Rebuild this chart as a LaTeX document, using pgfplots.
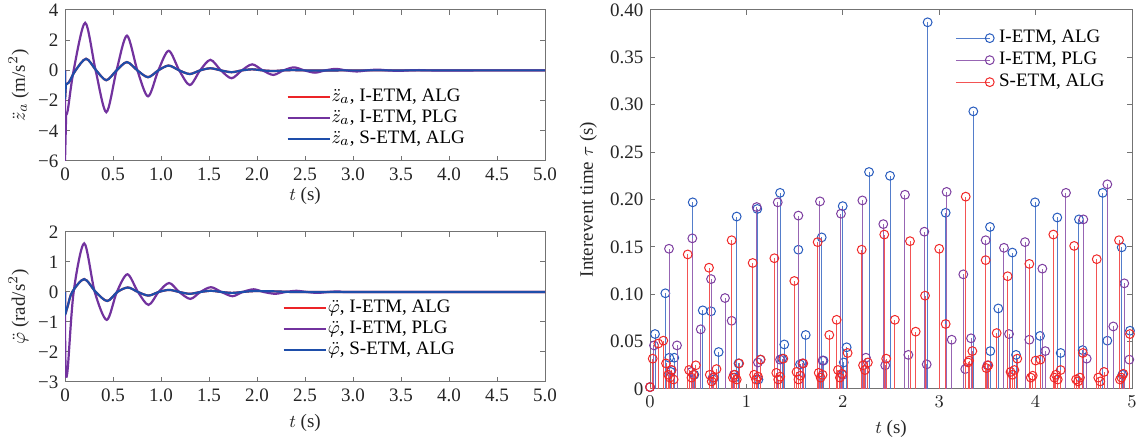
\documentclass[border=0pt]{standalone}
\usepackage{fontspec}
\setmainfont{Liberation Serif}
\usepackage{pgfplots}
\pgfplotsset{compat=1.18}
\definecolor{cR}{RGB}{236,36,40}
\definecolor{cP}{RGB}{114,50,158}
\definecolor{cB}{RGB}{30,78,170}
\definecolor{sB}{RGB}{40,92,190}
\definecolor{sP}{RGB}{125,62,160}
\definecolor{sR}{RGB}{240,40,40}
\pgfplotsset{
  myax/.style={scale only axis, anchor=north west,
    axis line style={black!55, line width=0.5pt},
    every tick/.style={black!55, line width=0.5pt},
    major tick length=2.5pt, tick align=inside,
    ticklabel style={font=\fontsize{9.5}{11}\selectfont, text=black!85},
    label style={font=\fontsize{9.5}{11}\selectfont, text=black!85},
    legend cell align=left,
    clip mode=individual},
  lineleg/.style={legend style={draw=none, fill=none, font=\fontsize{9.5}{11}\selectfont,
    nodes={text height=7pt, text depth=2pt, inner sep=0.5pt}, row sep=0.5pt,
    legend image code/.code={\draw[##1] (0pt,0pt) -- (21pt,0pt);}}},
}
\begin{document}
\fontsize{9.5}{11}\selectfont
\begin{tikzpicture}
\path[use as bounding box] (0pt,0pt) rectangle (569pt,-221pt);
% ---------------- top left
\begin{axis}[myax, lineleg, at={(32.5pt,-5pt)}, width=240pt, height=75.5pt,
  xmin=0, xmax=5, ymin=-6, ymax=4,
  xtick={0,0.5,1,1.5,2,2.5,3,3.5,4,4.5,5},
  xticklabels={0,0.5,1.0,1.5,2.0,2.5,3.0,3.5,4.0,4.5,5.0},
  ytick={-6,-4,-2,0,2,4}, yticklabels={−6,−4,−2,0,2,4},
  xlabel={$t$ (s)}, ylabel={$\ddot{z}_a$ (m/s$^2$)},
  xlabel style={yshift=3pt}, ylabel style={yshift=-2pt},
  legend style={at={(0.448,0.52)}, anchor=north west}]
\addplot[cR, line width=1.1pt, forget plot] coordinates {(0,0) (0,-1.9) (0.01,-0.9)};
\addplot[cR, line width=1.1pt, smooth] coordinates {(0.01,-0.9) (0.04,-0.8) (0.11,0) (0.22,0.77) (0.325,0) (0.43,-0.65) (0.537,0) (0.645,0.55) (0.754,0) (0.865,-0.45) (0.972,0) (1.08,0.32) (1.19,0) (1.30,-0.24) (1.407,0) (1.515,0.14) (1.624,0) (1.735,-0.12) (1.842,0) (1.95,0.07) (2.06,0) (2.17,-0.04) (2.276,0) (2.385,0.02) (2.494,0) (3,0) (4,0) (5,0)};
\addlegendentry{$\ddot{z}_a$, I-ETM, ALG}
\addplot[cP, line width=1.1pt, forget plot] coordinates {(0,0) (0,-6) (0.012,-2.9)};
\addplot[cP, line width=1.1pt, smooth] coordinates {(0.012,-2.9) (0.03,-2.6) (0.09,0) (0.21,3.15) (0.319,0) (0.43,-2.77) (0.537,0) (0.645,2.3) (0.754,0) (0.865,-1.72) (0.972,0) (1.08,1.3) (1.19,0) (1.30,-0.97) (1.407,0) (1.515,0.7) (1.624,0) (1.735,-0.52) (1.842,0) (1.95,0.4) (2.06,0) (2.17,-0.3) (2.276,0) (2.385,0.2) (2.494,0) (2.605,-0.15) (2.711,0) (2.82,0.1) (2.928,0) (3.04,-0.07) (3.146,0) (3.255,0.05) (3.363,0) (3.475,-0.03) (3.58,0) (3.69,0.02) (3.8,0) (4.4,0) (5,0)};
\addlegendentry{$\ddot{z}_a$, I-ETM, PLG}
\addplot[cB, line width=1.1pt, forget plot] coordinates {(0,0) (0,-1.9) (0.01,-0.9)};
\addplot[cB, line width=1.1pt, smooth] coordinates {(0.01,-0.9) (0.04,-0.8) (0.11,0) (0.22,0.77) (0.325,0) (0.43,-0.65) (0.537,0) (0.645,0.55) (0.754,0) (0.865,-0.45) (0.972,0) (1.08,0.32) (1.19,0) (1.30,-0.24) (1.407,0) (1.515,0.14) (1.624,0) (1.735,-0.12) (1.842,0) (1.95,0.07) (2.06,0) (2.17,-0.04) (2.276,0) (2.385,0.02) (2.494,0) (3,0) (4,0) (5,0)};
\addlegendentry{$\ddot{z}_a$, S-ETM, ALG}
\end{axis}
% ---------------- bottom left
\begin{axis}[myax, lineleg, at={(32.5pt,-116pt)}, width=240pt, height=75pt,
  xmin=0, xmax=5, ymin=-3, ymax=2,
  xtick={0,0.5,1,1.5,2,2.5,3,3.5,4,4.5,5},
  xticklabels={0,0.5,1.0,1.5,2.0,2.5,3.0,3.5,4.0,4.5,5.0},
  ytick={-3,-2,-1,0,1,2}, yticklabels={−3,−2,−1,0,1,2},
  xlabel={$t$ (s)}, ylabel={$\ddot{\varphi}$ (rad/s$^2$)},
  xlabel style={yshift=0pt}, ylabel style={yshift=-2pt},
  legend style={at={(0.44,0.59)}, anchor=north west}]
\addplot[cR, line width=1.1pt, forget plot] coordinates {(0,0) (0,-0.75) (0.004,-0.74)};
\addplot[cR, line width=1.1pt, smooth] coordinates {(0.004,-0.74) (0.03,-0.45) (0.075,0) (0.2,0.43) (0.32,0) (0.44,-0.3) (0.545,0) (0.655,0.15) (0.76,0) (0.87,-0.12) (0.975,0) (1.085,0.07) (1.19,0) (1.3,-0.06) (1.41,0) (1.52,0.04) (1.63,0) (1.74,-0.03) (1.85,0) (1.97,0.03) (2.2,0.02) (2.4,0) (3,0) (4,0) (5,0)};
\addlegendentry{$\ddot{\varphi}$, I-ETM, ALG}
\addplot[cP, line width=1.1pt, forget plot] coordinates {(0,0) (0.002,-2.1) (0.012,-2.85)};
\addplot[cP, line width=1.1pt, smooth] coordinates {(0.012,-2.85) (0.03,-2.5) (0.09,0) (0.2,1.62) (0.31,0) (0.435,-0.93) (0.54,0) (0.65,0.59) (0.76,0) (0.87,-0.43) (0.975,0) (1.085,0.3) (1.19,0) (1.305,-0.23) (1.41,0) (1.52,0.16) (1.63,0) (1.745,-0.14) (1.85,0) (1.965,0.09) (2.07,0) (2.19,-0.06) (2.3,0) (2.41,0.04) (2.52,0) (2.63,-0.03) (2.74,0) (2.85,0.02) (2.96,0) (4,0) (5,0)};
\addlegendentry{$\ddot{\varphi}$, I-ETM, PLG}
\addplot[cB, line width=1.1pt, forget plot] coordinates {(0,0) (0,-0.75) (0.004,-0.74)};
\addplot[cB, line width=1.1pt, smooth] coordinates {(0.004,-0.74) (0.03,-0.45) (0.075,0) (0.2,0.43) (0.32,0) (0.44,-0.3) (0.545,0) (0.655,0.15) (0.76,0) (0.87,-0.12) (0.975,0) (1.085,0.07) (1.19,0) (1.3,-0.06) (1.41,0) (1.52,0.04) (1.63,0) (1.74,-0.03) (1.85,0) (1.97,0.03) (2.2,0.02) (2.4,0) (3,0) (4,0) (5,0)};
\addlegendentry{$\ddot{\varphi}$, S-ETM, ALG}
\end{axis}
% ---------------- right
\begin{axis}[myax, at={(325pt,-5pt)}, width=241pt, height=189.5pt,
  xmin=0, xmax=5, ymin=0, ymax=0.4,
  xtick={0,1,2,3,4,5},
  ytick={0,0.05,0.1,0.15,0.2,0.25,0.3,0.35,0.4},
  yticklabels={0,0.05,0.10,0.15,0.20,0.25,0.30,0.35,0.40},
  xlabel={$t$ (s)}, ylabel={Interevent time $\tau$ (s)},
  xlabel style={yshift=0pt},
  legend style={at={(0.62,0.965)}, anchor=north west, draw=none, fill=none,
    nodes={text height=7pt, text depth=2.5pt, inner ysep=0.5pt, inner xsep=2.5pt}, row sep=0.5pt,
    font=\fontsize{9.5}{11}\selectfont,
    legend image code/.code={\draw[##1, mark=none] (0pt,0pt) -- (17pt,0pt); \draw[##1] plot[only marks] coordinates {(17pt,0pt)};}}]
\addplot[ycomb, draw=sB!80!white, line width=0.5pt, mark=o, mark size=2.2pt, mark options={draw=sB, line width=0.5pt}] table {
0 0.002
0.052 0.058
0.159 0.101
0.2 0.033
0.215 0.018
0.252 0.033
0.443 0.197
0.46 0.015
0.547 0.083
0.633 0.082
0.655 0.01
0.712 0.039
0.88 0.012
0.899 0.182
0.918 0.027
1.113 0.19
1.125 0.01
1.145 0.031
1.349 0.207
1.37 0.032
1.393 0.047
1.539 0.147
1.556 0.026
1.615 0.057
1.781 0.16
1.8 0.03
1.999 0.193
2.01 0.028
2.04 0.044
2.272 0.229
2.49 0.225
2.88 0.387
3.067 0.186
3.354 0.293
3.527 0.171
3.53 0.04
3.613 0.085
3.759 0.144
3.797 0.036
3.994 0.197
4.046 0.056
4.225 0.181
4.26 0.038
4.45 0.179
4.488 0.041
4.696 0.207
4.744 0.051
4.893 0.1495
4.9 0.015
4.979 0.0615
};
\addlegendentry{I-ETM, ALG}
\addplot[ycomb, draw=sP!80!white, line width=0.5pt, mark=o, mark size=2.2pt, mark options={draw=sP, line width=0.5pt}] table {
0 0.002
0.041 0.046
0.197 0.148
0.22 0.02
0.28 0.046
0.43 0.018
0.439 0.159
0.526 0.063
0.633 0.116
0.65 0.012
0.778 0.096
0.847 0.072
0.87 0.015
1.107 0.192
1.12 0.028
1.325 0.197
1.349 0.031
1.539 0.183
1.58 0.027
1.763 0.198
1.79 0.03
1.981 0.185
2.0 0.015
2.203 0.199
2.24 0.033
2.42 0.174
2.44 0.025
2.645 0.205
2.68 0.036
2.846 0.166
2.87 0.026
3.077 0.208
3.13 0.052
3.25 0.121
3.27 0.021
3.33 0.0535
3.482 0.157
3.5 0.025
3.672 0.149
3.724 0.058
3.89 0.155
3.935 0.052
4.07 0.127
4.1 0.04
4.315 0.207
4.495 0.179
4.53 0.032
4.744 0.216
4.806 0.066
4.92 0.1115
4.972 0.031
};
\addlegendentry{I-ETM, PLG}
\addplot[ycomb, draw=sR!80!white, line width=0.5pt, mark=o, mark size=2.2pt, mark options={draw=sR, line width=0.5pt}] table {
0 0.002
0.028 0.032
0.086 0.048
0.138 0.051
0.166 0.027
0.19 0.015
0.207 0.012
0.225 0.02
0.245 0.01
0.391 0.142
0.405 0.02
0.43 0.012
0.45 0.015
0.475 0.025
0.612 0.128
0.62 0.015
0.64 0.008
0.66 0.012
0.69 0.021
0.847 0.157
0.86 0.012
0.88 0.015
0.9 0.01
0.925 0.027
1.065 0.133
1.08 0.015
1.1 0.01
1.12 0.013
1.148 0.031
1.29 0.138
1.31 0.017
1.33 0.01
1.35 0.013
1.383 0.032
1.497 0.114
1.52 0.018
1.54 0.01
1.56 0.014
1.59 0.027
1.739 0.155
1.75 0.017
1.77 0.012
1.79 0.015
1.86 0.057
1.936 0.073
1.95 0.02
1.97 0.012
1.99 0.016
2.05 0.038
2.196 0.147
2.21 0.025
2.23 0.02
2.26 0.028
2.43 0.163
2.45 0.032
2.54 0.073
2.697 0.156
2.756 0.0605
2.853 0.0985
3.0 0.148
3.067 0.0686
3.275 0.203
3.3 0.028
3.31 0.03
3.344 0.04
3.482 0.136
3.49 0.022
3.51 0.025
3.596 0.059
3.71 0.119
3.74 0.018
3.76 0.015
3.78 0.02
3.81 0.032
3.935 0.132
3.95 0.012
3.97 0.014
4.0 0.03
4.05 0.031
4.184 0.163
4.195 0.012
4.21 0.015
4.23 0.01
4.26 0.02
4.4 0.151
4.42 0.01
4.44 0.008
4.46 0.012
4.49 0.038
4.634 0.137
4.65 0.012
4.67 0.008
4.71 0.018
4.865 0.157
4.875 0.01
4.89 0.012
4.91 0.016
4.979 0.058
};
\addlegendentry{S-ETM, ALG}
\end{axis}
\end{tikzpicture}
\end{document}
